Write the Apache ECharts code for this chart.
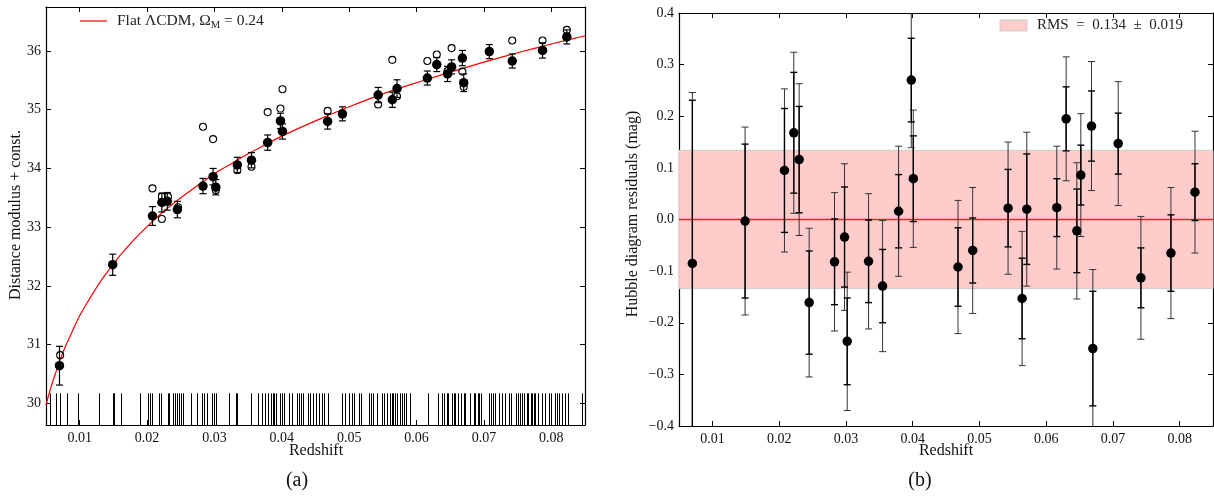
<!DOCTYPE html>
<html><head><meta charset="utf-8">
<script src="https://cdn.jsdelivr.net/npm/echarts@6/dist/echarts.min.js"></script>
<style>html,body{margin:0;padding:0;background:#fff}#c{width:1214px;height:496px}</style>
</head><body><div id="c"></div>
<script>
// ---------- data ----------
const redshift = [0.0070,0.0149,0.0208,0.0222,0.0230,0.0245,0.0283,0.0298,0.0302,0.0334,0.0355,0.0379,0.0398,0.0401,0.0468,0.0490,0.0543,0.0564,0.0571,0.0616,0.0630,0.0646,0.0652,0.0668,0.0670,0.0708,0.0742,0.0787,0.0823];
const distMod = [30.64,32.36,33.19,33.42,33.44,33.30,33.70,33.86,33.68,34.06,34.14,34.44,34.81,34.63,34.80,34.93,35.25,35.17,35.36,35.54,35.77,35.61,35.73,35.88,35.46,35.99,35.83,36.01,36.24];
const distModErr = [0.33,0.18,0.16,0.16,0.15,0.14,0.13,0.14,0.13,0.13,0.13,0.13,0.13,0.13,0.13,0.12,0.13,0.13,0.15,0.12,0.12,0.13,0.12,0.13,0.15,0.12,0.12,0.13,0.12];
const openZ = [0.0071,0.0208,0.0222,0.0222,0.0231,0.0246,0.0283,0.0298,0.0302,0.0334,0.0355,0.0379,0.0398,0.0401,0.0468,0.0490,0.0543,0.0564,0.0571,0.0616,0.0630,0.0646,0.0652,0.0668,0.0670,0.0742,0.0787,0.0823];
const openMu = [30.82,33.66,33.14,33.52,33.52,33.34,34.71,34.50,33.63,33.97,34.03,34.96,35.02,35.35,34.98,34.92,35.09,35.85,35.23,35.83,35.94,35.66,36.05,35.65,35.39,36.18,36.18,36.36];
const curveZ = [0.005,0.0055,0.006,0.0065,0.007,0.0075,0.008,0.009,0.010,0.011,0.012,0.013,0.014,0.015,0.016,0.018,0.020,0.0225,0.025,0.0275,0.030,0.0325,0.035,0.0375,0.040,0.045,0.050,0.055,0.060,0.065,0.070,0.075,0.080,0.085];
const curveMu = [29.97,30.18,30.37,30.54,30.71,30.86,31.00,31.25,31.49,31.69,31.88,32.06,32.22,32.37,32.52,32.78,33.01,33.27,33.50,33.71,33.91,34.08,34.25,34.40,34.55,34.81,35.05,35.27,35.46,35.64,35.81,35.97,36.12,36.26];
const rugZ = [0.0056,0.0065,0.0071,0.0081,0.0097,0.0129,0.0149,0.0151,0.0161,0.0189,0.0201,0.0204,0.0207,0.0218,0.0221,0.0231,0.0232,0.0239,0.0242,0.0244,0.0247,0.0250,0.0254,0.0265,0.0274,0.0282,0.0284,0.0289,0.0297,0.0300,0.0303,0.0322,0.0332,0.0334,0.0354,0.0364,0.0371,0.0375,0.0379,0.0384,0.0387,0.0389,0.0392,0.0397,0.0400,0.0403,0.0410,0.0415,0.0423,0.0426,0.0429,0.0432,0.0439,0.0442,0.0447,0.0451,0.0455,0.0459,0.0462,0.0469,0.0490,0.0494,0.0500,0.0504,0.0507,0.0515,0.0517,0.0529,0.0533,0.0535,0.0542,0.0548,0.0552,0.0556,0.0561,0.0563,0.0565,0.0568,0.0571,0.0575,0.0578,0.0582,0.0585,0.0590,0.0617,0.0632,0.0638,0.0641,0.0645,0.0647,0.0652,0.0655,0.0657,0.0662,0.0666,0.0670,0.0672,0.0680,0.0685,0.0687,0.0691,0.0693,0.0696,0.0708,0.0710,0.0713,0.0717,0.0723,0.0727,0.0732,0.0737,0.0740,0.0748,0.0751,0.0754,0.0757,0.0760,0.0764,0.0766,0.0770,0.0772,0.0774,0.0776,0.0780,0.0786,0.0791,0.0796,0.0800,0.0805,0.0809,0.0812,0.0816,0.0820,0.0825,0.0846];
const residual = [-0.085,-0.003,0.095,0.168,0.116,-0.161,-0.082,-0.034,-0.236,-0.081,-0.129,0.016,0.270,0.079,-0.092,-0.060,0.022,-0.153,0.020,0.023,0.195,-0.022,0.086,0.181,-0.250,0.147,-0.113,-0.065,0.053];
const resErrOuter = [0.331,0.182,0.158,0.156,0.147,0.144,0.134,0.142,0.134,0.131,0.127,0.126,0.131,0.133,0.129,0.122,0.128,0.130,0.149,0.119,0.120,0.132,0.119,0.125,0.153,0.120,0.119,0.127,0.118];
const resErrInner = [0.316,0.149,0.120,0.117,0.103,0.100,0.083,0.097,0.084,0.080,0.071,0.071,0.081,0.083,0.076,0.063,0.075,0.078,0.107,0.056,0.062,0.081,0.058,0.068,0.111,0.059,0.058,0.074,0.055];
const xTicks = [0.01,0.02,0.03,0.04,0.05,0.06,0.07,0.08];
const muTicks = [30,31,32,33,34,35,36];
const resTicks = [-0.4,-0.3,-0.2,-0.1,0.0,0.1,0.2,0.3,0.4];
const rmsValue = 0.134, rmsErr = 0.019;
const omegaM = 0.24;

// ---------- chart ----------
const serif = '"Liberation Serif", "DejaVu Serif", serif';
const chart = echarts.init(document.getElementById('c'), null, {renderer:'canvas'});

function xAxisDef(gi, pos, show) {
  return {type:'value', gridIndex:gi, position:pos, min:0.005, max:0.085,
    axisLine:{show:true, onZero:false, lineStyle:{color:'#000', width:1.2}},
    axisTick:{show:true, inside:true, length:5, customValues:xTicks, lineStyle:{color:'#000', width:1}},
    axisLabel:{show:show, customValues:xTicks, formatter:v=>v.toFixed(2), fontFamily:serif, fontSize:14, color:'#111', margin:6},
    splitLine:{show:false}};
}
function yAxisDef(gi, pos, show, mn, mx, ticks, fmt) {
  return {type:'value', gridIndex:gi, position:pos, min:mn, max:mx,
    axisLine:{show:true, onZero:false, lineStyle:{color:'#000', width:1.2}},
    axisTick:{show:true, inside:true, length:5, customValues:ticks, lineStyle:{color:'#000', width:1}},
    axisLabel:{show:show, customValues:ticks, formatter:fmt, fontFamily:serif, fontSize:14, color:'#111', margin:5},
    splitLine:{show:false}};
}
function errRender(color, width, capHalf) {
  return function(params, api) {
    const cs = params.coordSys;
    const x = api.value(0), lo = api.value(1), hi = api.value(2);
    const pLo = api.coord([x, lo]), pHi = api.coord([x, hi]);
    const top = cs.y, bot = cs.y + cs.height;
    const style = {stroke:color, lineWidth:width};
    const children = [];
    const yA = Math.min(bot, Math.max(top, pLo[1]));
    const yB = Math.min(bot, Math.max(top, pHi[1]));
    children.push({type:'line', shape:{x1:pLo[0], y1:yA, x2:pLo[0], y2:yB}, style});
    if (pLo[1] <= bot && pLo[1] >= top) children.push({type:'line', shape:{x1:pLo[0]-capHalf, y1:pLo[1], x2:pLo[0]+capHalf, y2:pLo[1]}, style});
    if (pHi[1] <= bot && pHi[1] >= top) children.push({type:'line', shape:{x1:pHi[0]-capHalf, y1:pHi[1], x2:pHi[0]+capHalf, y2:pHi[1]}, style});
    return {type:'group', children};
  };
}
function rugRender(params, api) {
  const cs = params.coordSys;
  const p = api.coord([api.value(0), 30.17]);
  const x = Math.round(p[0]) + 0.5;
  return {type:'line', shape:{x1:x, y1:cs.y+cs.height, x2:x, y2:p[1]}, style:{stroke:'#000', lineWidth:1}};
}
const resFmt = v => (v < -1e-9 ? '\u2212' : '') + Math.abs(v).toFixed(1);

const option = {
  animation:false,
  backgroundColor:'#fff',
  grid:[
    {left:46, top:7, width:539, height:418},
    {left:679, top:13, width:534, height:413}
  ],
  xAxis:[
    xAxisDef(0,'bottom',true), xAxisDef(0,'top',false),
    xAxisDef(1,'bottom',true), xAxisDef(1,'top',false)
  ],
  yAxis:[
    yAxisDef(0,'left',true,29.63,36.75,muTicks,v=>String(v)),
    yAxisDef(0,'right',false,29.63,36.75,muTicks,v=>String(v)),
    yAxisDef(1,'left',true,-0.4,0.4,resTicks,resFmt),
    yAxisDef(1,'right',false,-0.4,0.4,resTicks,resFmt)
  ],
  series:[
    {type:'line', xAxisIndex:0, yAxisIndex:0, data:curveZ.map((z,i)=>[z,curveMu[i]]), smooth:0.3, showSymbol:false, silent:true,
      lineStyle:{color:'#ff0000', width:1.2}, z:2},
    {type:'custom', xAxisIndex:0, yAxisIndex:0, data:rugZ.map(z=>[z]), renderItem:rugRender, silent:true, z:2},
    {type:'custom', xAxisIndex:0, yAxisIndex:0, data:redshift.map((z,i)=>[z, distMod[i]-distModErr[i], distMod[i]+distModErr[i]]),
      renderItem:errRender('#000',1.2,3.5), silent:true, z:3},
    {type:'scatter', xAxisIndex:0, yAxisIndex:0, data:redshift.map((z,i)=>[z,distMod[i]]), symbol:'circle', symbolSize:9.5,
      itemStyle:{color:'#000', opacity:1}, silent:true, z:4},
    {type:'scatter', xAxisIndex:0, yAxisIndex:0, data:openZ.map((z,i)=>[z,openMu[i]]), symbol:'circle', symbolSize:7,
      itemStyle:{color:'rgba(0,0,0,0)', borderColor:'#000', borderWidth:1.1, opacity:1}, silent:true, z:5},

    {type:'line', xAxisIndex:2, yAxisIndex:2, data:[[0.005,0],[0.085,0]], showSymbol:false, silent:true,
      lineStyle:{color:'#ee2222', width:1.3}, z:2,
      markArea:{silent:true, itemStyle:{color:'#ffcccc', borderColor:'#cccccc', borderWidth:1},
        data:[[{yAxis:-rmsValue},{yAxis:rmsValue}]]}},
    {type:'custom', xAxisIndex:2, yAxisIndex:2, data:redshift.map((z,i)=>[z, residual[i]-resErrOuter[i], residual[i]+resErrOuter[i]]),
      renderItem:errRender('#333',1,3.5), silent:true, z:3},
    {type:'custom', xAxisIndex:2, yAxisIndex:2, data:redshift.map((z,i)=>[z, residual[i]-resErrInner[i], residual[i]+resErrInner[i]]),
      renderItem:errRender('#000',1.4,3.5), silent:true, z:4},
    {type:'scatter', xAxisIndex:2, yAxisIndex:2, data:redshift.map((z,i)=>[z,residual[i]]), symbol:'circle', symbolSize:9.5,
      itemStyle:{color:'#000', opacity:1}, silent:true, z:5}
  ],
  graphic:[
    {type:'line', shape:{x1:80,y1:21,x2:107,y2:21}, style:{stroke:'#ff0000', lineWidth:1.2}},
    {type:'text', x:117, y:21, style:{text:'{n|Flat \u039BCDM, \u03A9}{s|M}{n| = ' + omegaM.toFixed(2) + '}',
      rich:{n:{fontFamily:serif, fontSize:15.5, fill:'#222', lineHeight:20},
            s:{fontFamily:serif, fontSize:10.5, fill:'#222', lineHeight:20, verticalAlign:'bottom'}},
      verticalAlign:'middle', align:'left'}},
    {type:'rect', shape:{x:1000, y:20, width:27, height:11}, style:{fill:'#ffcccc', stroke:'#cccccc', lineWidth:1}},
    {type:'text', x:1037, y:25.5, style:{text:'RMS  =  ' + rmsValue.toFixed(3) + '  \u00B1  ' + rmsErr.toFixed(3),
      fontFamily:serif, fontSize:15, fill:'#222', verticalAlign:'middle', align:'left'}},
    {type:'text', x:16, y:215, rotation:Math.PI/2, style:{text:'Distance modulus + const.', fontFamily:serif, fontSize:16, fill:'#111', align:'center', verticalAlign:'middle'}},
    {type:'text', x:316, y:451, style:{text:'Redshift', fontFamily:serif, fontSize:16, fill:'#111', align:'center', verticalAlign:'middle'}},
    {type:'text', x:633, y:214, rotation:Math.PI/2, style:{text:'Hubble diagram residuals (mag)', fontFamily:serif, fontSize:16, fill:'#111', align:'center', verticalAlign:'middle'}},
    {type:'text', x:946, y:451, style:{text:'Redshift', fontFamily:serif, fontSize:16, fill:'#111', align:'center', verticalAlign:'middle'}},
    {type:'text', x:297, y:481, style:{text:'(a)', fontFamily:serif, fontSize:20, fill:'#111', align:'center', verticalAlign:'middle'}},
    {type:'text', x:920, y:481, style:{text:'(b)', fontFamily:serif, fontSize:20, fill:'#111', align:'center', verticalAlign:'middle'}}
  ]
};
chart.setOption(option);
</script>
</body></html>
